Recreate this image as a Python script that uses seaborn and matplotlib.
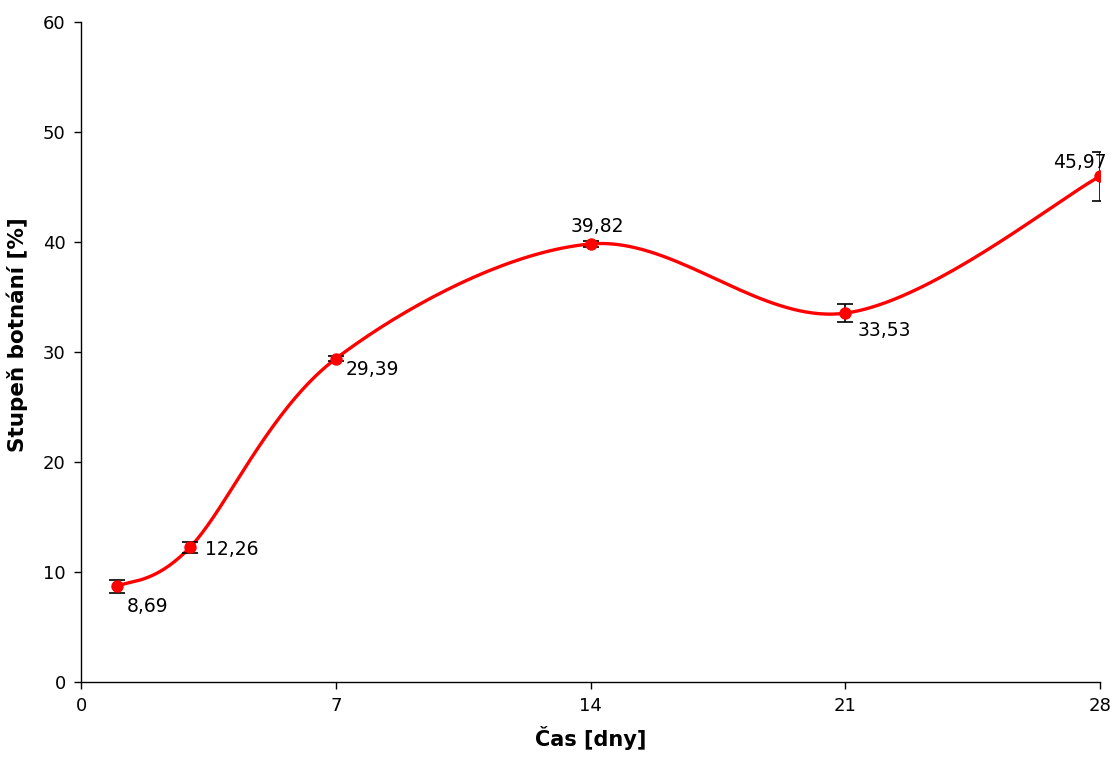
import numpy as np
import pandas as pd
import matplotlib
matplotlib.use("Agg")
import matplotlib.pyplot as plt
import seaborn as sns

# Swelling degree over time
days = [1, 3, 7, 14, 21, 28]
swelling = [8.69, 12.26, 29.39, 39.82, 33.53, 45.97]
errors = [0.6, 0.5, 0.2, 0.3, 0.8, 2.2]
value_labels = ["8,69", "12,26", "29,39", "39,82", "33,53", "45,97"]
x_ticks = [0, 7, 14, 21, 28]
y_ticks = [0, 10, 20, 30, 40, 50, 60]

sns.set_theme(style="white")
plt.rcParams["font.family"] = ["DejaVu Sans"]
plt.rcParams["text.color"] = "black"
plt.rcParams["axes.labelcolor"] = "black"

fig = plt.figure(figsize=(11.16, 7.63), dpi=100)
ax = fig.add_axes([0.0726, 0.1062, 0.9131, 0.865])
ax.set_xlim(0, 28)
ax.set_ylim(0, 60)


def smooth_curve(xs, ys, sx, sy, n=40):
    """Cubic Bezier smoothing (Catmull-Rom style) computed in screen-scaled space."""
    P = np.column_stack([np.asarray(xs, float) * sx, np.asarray(ys, float) * sy])
    out = []
    for i in range(len(P) - 1):
        p0 = P[i - 1] if i > 0 else P[i]
        p1, p2 = P[i], P[i + 1]
        p3 = P[i + 2] if i + 2 < len(P) else P[i + 1]
        c1 = p1 + (p2 - p0) / 6.0
        c2 = p2 - (p3 - p1) / 6.0
        t = np.linspace(0, 1, n)[:, None]
        seg = ((1 - t) ** 3) * p1 + 3 * ((1 - t) ** 2) * t * c1 + 3 * (1 - t) * t ** 2 * c2 + t ** 3 * p2
        out.append(seg if i == 0 else seg[1:])
    pts = np.vstack(out)
    return pts[:, 0] / sx, pts[:, 1] / sy


cx, cy = smooth_curve(days, swelling, 36.4, 11.0)
curve = pd.DataFrame({"x": cx, "y": cy})
sns.lineplot(data=curve, x="x", y="y", sort=False, color="#ff0000",
             linewidth=2.4, ax=ax, estimator=None)

ax.errorbar(days, swelling, yerr=errors, fmt="none", ecolor="black",
            elinewidth=1.2, capsize=6, capthick=1.2, zorder=3)

pts = pd.DataFrame({"day": days, "value": swelling})
sns.scatterplot(data=pts, x="day", y="value", color="#ff0000", s=80,
                edgecolor="#ff0000", linewidth=0, ax=ax, zorder=4)

# Value labels, placed around each point
offsets = [(7, -8, "left", "top"), (11, -2, "left", "center"),
           (7, -1, "left", "top"), (5, 6, "center", "bottom"),
           (9, -6, "left", "top"), (5, 3, "right", "bottom")]
for x, y, lab, (dx, dy, ha, va) in zip(days, swelling, value_labels, offsets):
    ax.annotate(lab, (x, y), xytext=(dx, dy), textcoords="offset points",
                ha=ha, va=va, fontsize=13.5, color="black", zorder=5)

ax.set_xticks(x_ticks)
ax.set_yticks(y_ticks)
ax.tick_params(axis="both", which="major", direction="out", length=5, width=1,
               color="black", labelsize=13, labelcolor="black", pad=6,
               bottom=True, left=True)
for side in ("top", "right"):
    ax.spines[side].set_visible(False)
for side in ("left", "bottom"):
    ax.spines[side].set_color("black")
    ax.spines[side].set_linewidth(1)

ax.set_xlabel("Čas [dny]", fontsize=15, fontweight="bold", labelpad=8, color="black")
ax.set_ylabel("Stupeň botnání [%]", fontsize=15.5, fontweight="bold", color="black")
ax.yaxis.set_label_coords(-0.052, 0.527)
ax.grid(False)

fig.savefig("out.png", dpi=100)
